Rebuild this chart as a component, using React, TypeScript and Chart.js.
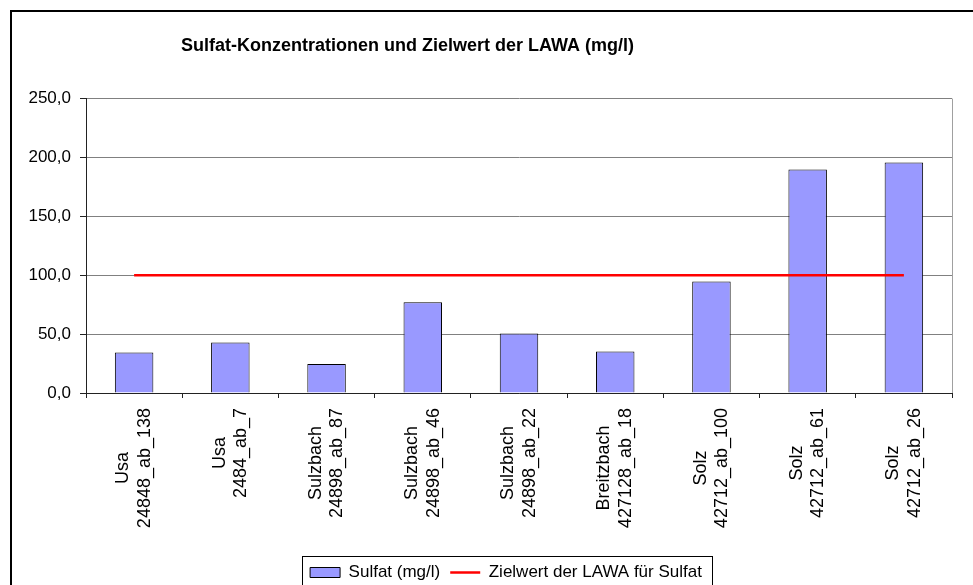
import React, { useEffect, useRef } from 'react';
import { Chart, registerables } from 'chart.js';

Chart.register(...registerables);

// ---- data ----
const stations = ['Usa', 'Usa', 'Sulzbach', 'Sulzbach', 'Sulzbach', 'Breitzbach', 'Solz', 'Solz', 'Solz'];
const sites = ['24848_ab_138', '2484_ab_7', '24898_ab_87', '24898_ab_46', '24898_ab_22', '427128_ab_18', '42712_ab_100', '42712_ab_61', '42712_ab_26'];
const sulfat = [34.4, 42.9, 24.6, 77.1, 50.5, 35.3, 94.6, 189.8, 195.8];
const zielwert = [100, 100, 100, 100, 100, 100, 100, 100, 100];
const yMin = 0;
const yMax = 250;
const yStep = 50;
const titleText = 'Sulfat-Konzentrationen und Zielwert der LAWA (mg/l)';
const seriesBarLabel = 'Sulfat (mg/l)';
const seriesLineLabel = 'Zielwert der LAWA für Sulfat';

const FONT = '"Liberation Sans", Arial, Helvetica, sans-serif';
const W = 973;
const H = 591;

const categories = stations.map((s, i) => [s, sites[i]]);

const layoutTweak = {
  id: 'layoutTweak',
  afterLayout(chart: any) {
    const t = chart.titleBlock;
    if (t) {
      t.left = 0;
      t.right = 815;
    }
    const l = chart.legend;
    if (l) {
      l.left = 40;
      l.right = 972;
    }
  },
};

const frames = {
  id: 'frames',
  afterDraw(chart: any) {
    const { ctx, chartArea } = chart;
    ctx.save();
    // plot-area right edge
    ctx.strokeStyle = '#a0a0a0';
    ctx.lineWidth = 1;
    ctx.beginPath();
    ctx.moveTo(Math.round(chartArea.right) + 0.5, chartArea.top);
    ctx.lineTo(Math.round(chartArea.right) + 0.5, chartArea.bottom);
    ctx.stroke();
    // outer chart frame (left and top visible in the crop)
    ctx.strokeStyle = '#000';
    ctx.lineWidth = 2;
    ctx.beginPath();
    ctx.moveTo(11, chart.height + 5);
    ctx.lineTo(11, 11);
    ctx.lineTo(chart.width + 5, 11);
    ctx.stroke();
    ctx.restore();
  },
};

const xLabels = {
  id: 'xLabels',
  afterDraw(chart: any) {
    const ctx = chart.ctx;
    const xs = chart.scales.x;
    const size = 18;
    const lh = size * 1.2;
    ctx.save();
    ctx.font = `${size}px ${FONT}`;
    ctx.fillStyle = '#000';
    ctx.textAlign = 'center';
    ctx.textBaseline = 'middle';
    (chart.data.labels as string[][]).forEach((lines, i) => {
      const px = xs.getPixelForTick(i);
      const w = Math.max(...lines.map((s) => ctx.measureText(s).width));
      const cy = xs.top + 15 + w / 2;
      lines.forEach((s, j) => {
        const lx = px + (j - (lines.length - 1) / 2) * lh;
        ctx.save();
        ctx.translate(lx, cy);
        ctx.rotate(-Math.PI / 2);
        ctx.fillText(s, 0, 0);
        ctx.restore();
      });
    });
    ctx.restore();
  },
};

const legendFrame = {
  id: 'legendFrame',
  afterDraw(chart: any) {
    const l = chart.legend;
    const hb = l && l.legendHitBoxes;
    if (!hb || !hb.length) return;
    const ctx = chart.ctx;
    const lefts = hb.map((b: any) => b.left);
    const rights = hb.map((b: any) => b.left + b.width);
    const x0 = Math.round(Math.min(...lefts) - 8) + 0.5;
    const x1 = Math.round(Math.max(...rights) + 10) + 0.5;
    const y0 = Math.round(hb[0].top - 8) + 0.5;
    ctx.save();
    ctx.strokeStyle = '#000';
    ctx.lineWidth = 1;
    ctx.strokeRect(x0, y0, x1 - x0, chart.height + 10 - y0);
    ctx.restore();
  },
};

export default function App() {
  const ref = useRef<HTMLCanvasElement | null>(null);

  useEffect(() => {
    if (!ref.current) return;
    const chart = new Chart(ref.current, {
      type: 'bar',
      data: {
        labels: categories,
        datasets: [
          {
            type: 'bar',
            label: seriesBarLabel,
            data: sulfat,
            backgroundColor: '#9999FF',
            borderColor: '#000000',
            borderWidth: 1,
            barPercentage: 0.4,
            categoryPercentage: 1,
            order: 2,
          },
          {
            type: 'line',
            label: seriesLineLabel,
            data: zielwert,
            borderColor: '#FF0000',
            backgroundColor: '#FF0000',
            borderWidth: 2.5,
            pointRadius: 0,
            fill: false,
            order: 1,
          },
        ],
      } as any,
      options: {
        responsive: false,
        animation: false,
        layout: { padding: { left: 0, right: 21, top: 0, bottom: 0 } },
        plugins: {
          title: {
            display: true,
            text: titleText,
            color: '#000',
            font: { family: FONT, size: 18, weight: 'bold' },
            padding: { top: 35, bottom: 42 },
          },
          legend: {
            position: 'bottom',
            labels: {
              usePointStyle: true,
              pointStyleWidth: 30,
              boxHeight: 10,
              padding: 10,
              color: '#000',
              font: { family: FONT, size: 17 },
              generateLabels: (c: any) => {
                const items = (Chart.defaults.plugins.legend.labels as any).generateLabels(c);
                items.sort((a: any, b: any) => a.datasetIndex - b.datasetIndex);
                return items.map((it: any) =>
                  it.datasetIndex === 0
                    ? { ...it, pointStyle: 'rect', fillStyle: '#9999FF', strokeStyle: '#000', lineWidth: 1 }
                    : { ...it, pointStyle: 'line', fillStyle: '#FF0000', strokeStyle: '#FF0000', lineWidth: 2.5 }
                );
              },
            },
          },
          tooltip: { enabled: false },
        },
        scales: {
          x: {
            offset: true,
            grid: {
              display: true,
              offset: true,
              drawOnChartArea: false,
              drawTicks: true,
              tickLength: 5,
              color: '#222',
            },
            border: { color: '#222', width: 1 },
            ticks: { color: 'transparent', autoSkip: false, minRotation: 90, maxRotation: 90, font: { family: FONT, size: 18 } },
            afterFit: (s: any) => {
              s.height = 161;
            },
          },
          y: {
            min: yMin,
            max: yMax,
            ticks: {
              stepSize: yStep,
              color: '#000',
              padding: 9,
              font: { family: FONT, size: 17 },
              callback: (v: any) => Number(v).toFixed(1).replace('.', ','),
            },
            grid: { color: '#808080', tickLength: 6, tickColor: '#222' },
            border: { color: '#222', width: 1 },
            afterFit: (s: any) => {
              s.width = 86;
            },
          },
        },
      } as any,
      plugins: [layoutTweak, frames, xLabels, legendFrame],
    });
    return () => chart.destroy();
  }, []);

  return (
    <div style={{ position: 'absolute', left: 0, top: 0, width: W, height: 585, overflow: 'hidden', background: '#fff' }}>
      <canvas ref={ref} width={W} height={H} style={{ display: 'block', width: W, height: H }} />
    </div>
  );
}
